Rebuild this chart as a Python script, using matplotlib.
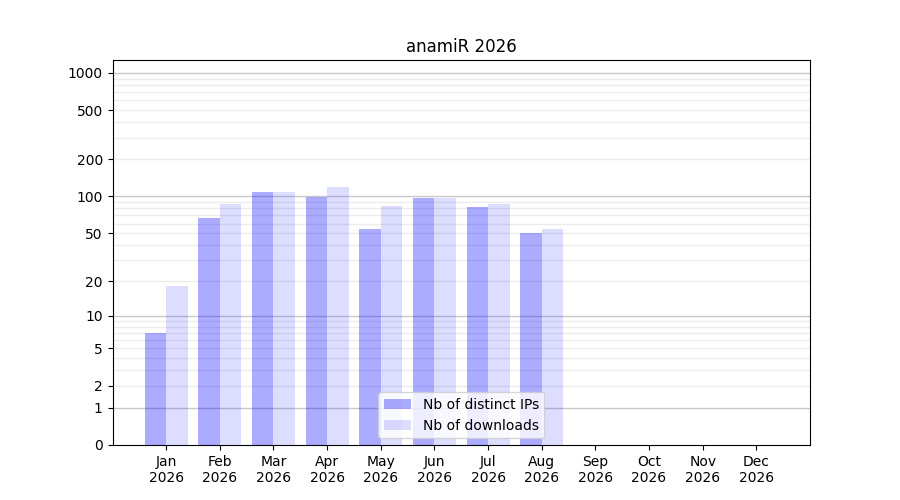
import numpy as np
import matplotlib.pyplot as plt

months = ["Jan", "Feb", "Mar", "Apr", "May", "Jun",
          "Jul", "Aug", "Sep", "Oct", "Nov", "Dec"]
year = "2026"
distinct_ips = [7, 67, 109, 99, 54, 97, 82, 50, 0, 0, 0, 0]
downloads = [18, 87, 109, 120, 84, 97, 87, 54, 0, 0, 0, 0]
ytick_values = [0, 1, 2, 5, 10, 20, 50, 100, 200, 500, 1000]


def fwd(y):
    return np.log10(1 + np.maximum(y, 0))


def inv(y):
    return 10 ** y - 1


fig, ax = plt.subplots(figsize=(9, 5), dpi=100)
x = np.arange(len(months))

ax.bar(x, distinct_ips, width=-0.4, align="edge", color="blue", alpha=0.33,
       label="Nb of distinct IPs")
ax.bar(x, downloads, width=0.4, align="edge", color="blue", alpha=0.135,
       label="Nb of downloads")

ax.set_yscale("function", functions=(fwd, inv))
ax.set_ylim(0, 1270)
ax.set_xlim(-1, 12)

# grid: major at decades, minor at the steps in between
major = [1, 10, 100, 1000]
minor = [m * d for d in (1, 10, 100) for m in range(2, 10)]
for v in major:
    ax.axhline(v, color="#c8c8c8", lw=1, zorder=0)
for v in minor:
    ax.axhline(v, color="#ececec", lw=1, zorder=0)

ax.set_yticks(ytick_values)
ax.set_yticklabels([str(v) for v in ytick_values])
ax.set_xticks(x)
ax.set_xticklabels([f"{m}\n{year}" for m in months])

ax.set_title("anamiR 2026")
ax.legend(loc="lower center")

fig.savefig("out.png", dpi=100)
